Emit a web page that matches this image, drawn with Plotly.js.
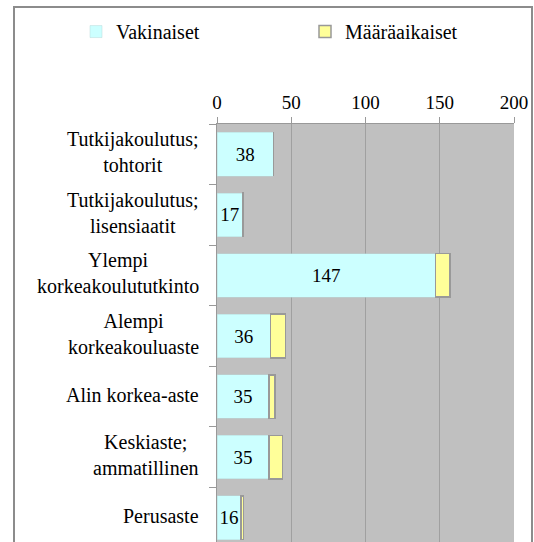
<!DOCTYPE html>
<html>
<head>
<meta charset="utf-8">
<script src="https://cdn.plot.ly/plotly-3.0.1.min.js"></script>
<style>
  html, body { margin: 0; padding: 0; overflow: hidden; background: #fff; }
  #wrap { position: relative; width: 534px; height: 542px; overflow: hidden; }
  #chart { position: absolute; left: 0; top: 0; width: 534px; height: 560px; }
  #frame { position: absolute; left: 13px; top: 6px; width: 516px; height: 600px;
           border: 2px solid #8c8c8c; pointer-events: none; }
</style>
</head>
<body>
<div id="wrap">
  <div id="chart"></div>
  <div id="frame"></div>
</div>
<script>
const categories = [
  "Tutkijakoulutus;<br>tohtorit",
  "Tutkijakoulutus;<br>lisensiaatit",
  "Ylempi<br>korkeakoulututkinto",
  "Alempi<br>korkeakouluaste",
  "Alin korkea-aste",
  "Keskiaste;<br>ammatillinen",
  "Perusaste"
];
const vakinaiset = [38, 17, 147, 36, 35, 35, 16];
const maaraaikaiset = [0, 1, 10, 10, 4, 9, 2];
const seriesNames = ["Vakinaiset", "Määräaikaiset"];
const xTicks = [0, 50, 100, 150, 200];

const FAM = "Liberation Serif";

const traces = [
  {
    type: "bar", orientation: "h", name: seriesNames[0],
    y: categories, x: vakinaiset,
    text: vakinaiset.map(String), textposition: "inside",
    insidetextanchor: "middle", constraintext: "none",
    textfont: { family: FAM, size: 19, color: "#000" },
    marker: { color: "#ccffff", line: { color: "#b8d8d8", width: 0.5 } }
  },
  {
    type: "bar", orientation: "h", name: seriesNames[1],
    y: categories, x: maaraaikaiset,
    marker: { color: "#ffff99", line: { color: "#999999", width: 1.5 } }
  }
];

// category labels: centred multi-line text, right edge next to the axis
const labelAnnotations = categories.map(c => ({
  xref: "paper", yref: "y", x: -0.055, y: c,
  xanchor: "right", yanchor: "middle", align: "center", yshift: 2,
  text: c, showarrow: false,
  font: { family: FAM, size: 20, color: "#000" }
}));

const layout = {
  width: 534, height: 560,
  margin: { l: 217, r: 20, t: 122, b: 12 },
  paper_bgcolor: "#ffffff",
  plot_bgcolor: "#c0c0c0",
  barmode: "stack",
  bargap: 0.28,
  showlegend: true,
  legend: {
    orientation: "h", x: -0.424, xanchor: "left", y: 1.218, yanchor: "middle",
    entrywidth: 184, font: { family: FAM, size: 20, color: "#000" },
    traceorder: "normal", bgcolor: "rgba(0,0,0,0)"
  },
  annotations: labelAnnotations,
  xaxis: {
    side: "top", range: [0, 200], tickvals: xTicks, ticktext: xTicks.map(String),
    showgrid: true, gridcolor: "#a0a0a0", gridwidth: 1,
    showline: true, linecolor: "#999999", linewidth: 1,
    ticks: "outside", ticklen: 6, tickcolor: "#999999",
    zeroline: false, fixedrange: true,
    tickfont: { family: FAM, size: 19, color: "#000" }
  },
  yaxis: {
    autorange: "reversed", type: "category",
    showline: true, linecolor: "#999999", linewidth: 1,
    ticks: "outside", ticklen: 7, tickcolor: "#999999", tickson: "boundaries",
    showticklabels: false,
    showgrid: false, fixedrange: true
  }
};

Plotly.newPlot("chart", traces, layout, { displayModeBar: false });
</script>
</body>
</html>
